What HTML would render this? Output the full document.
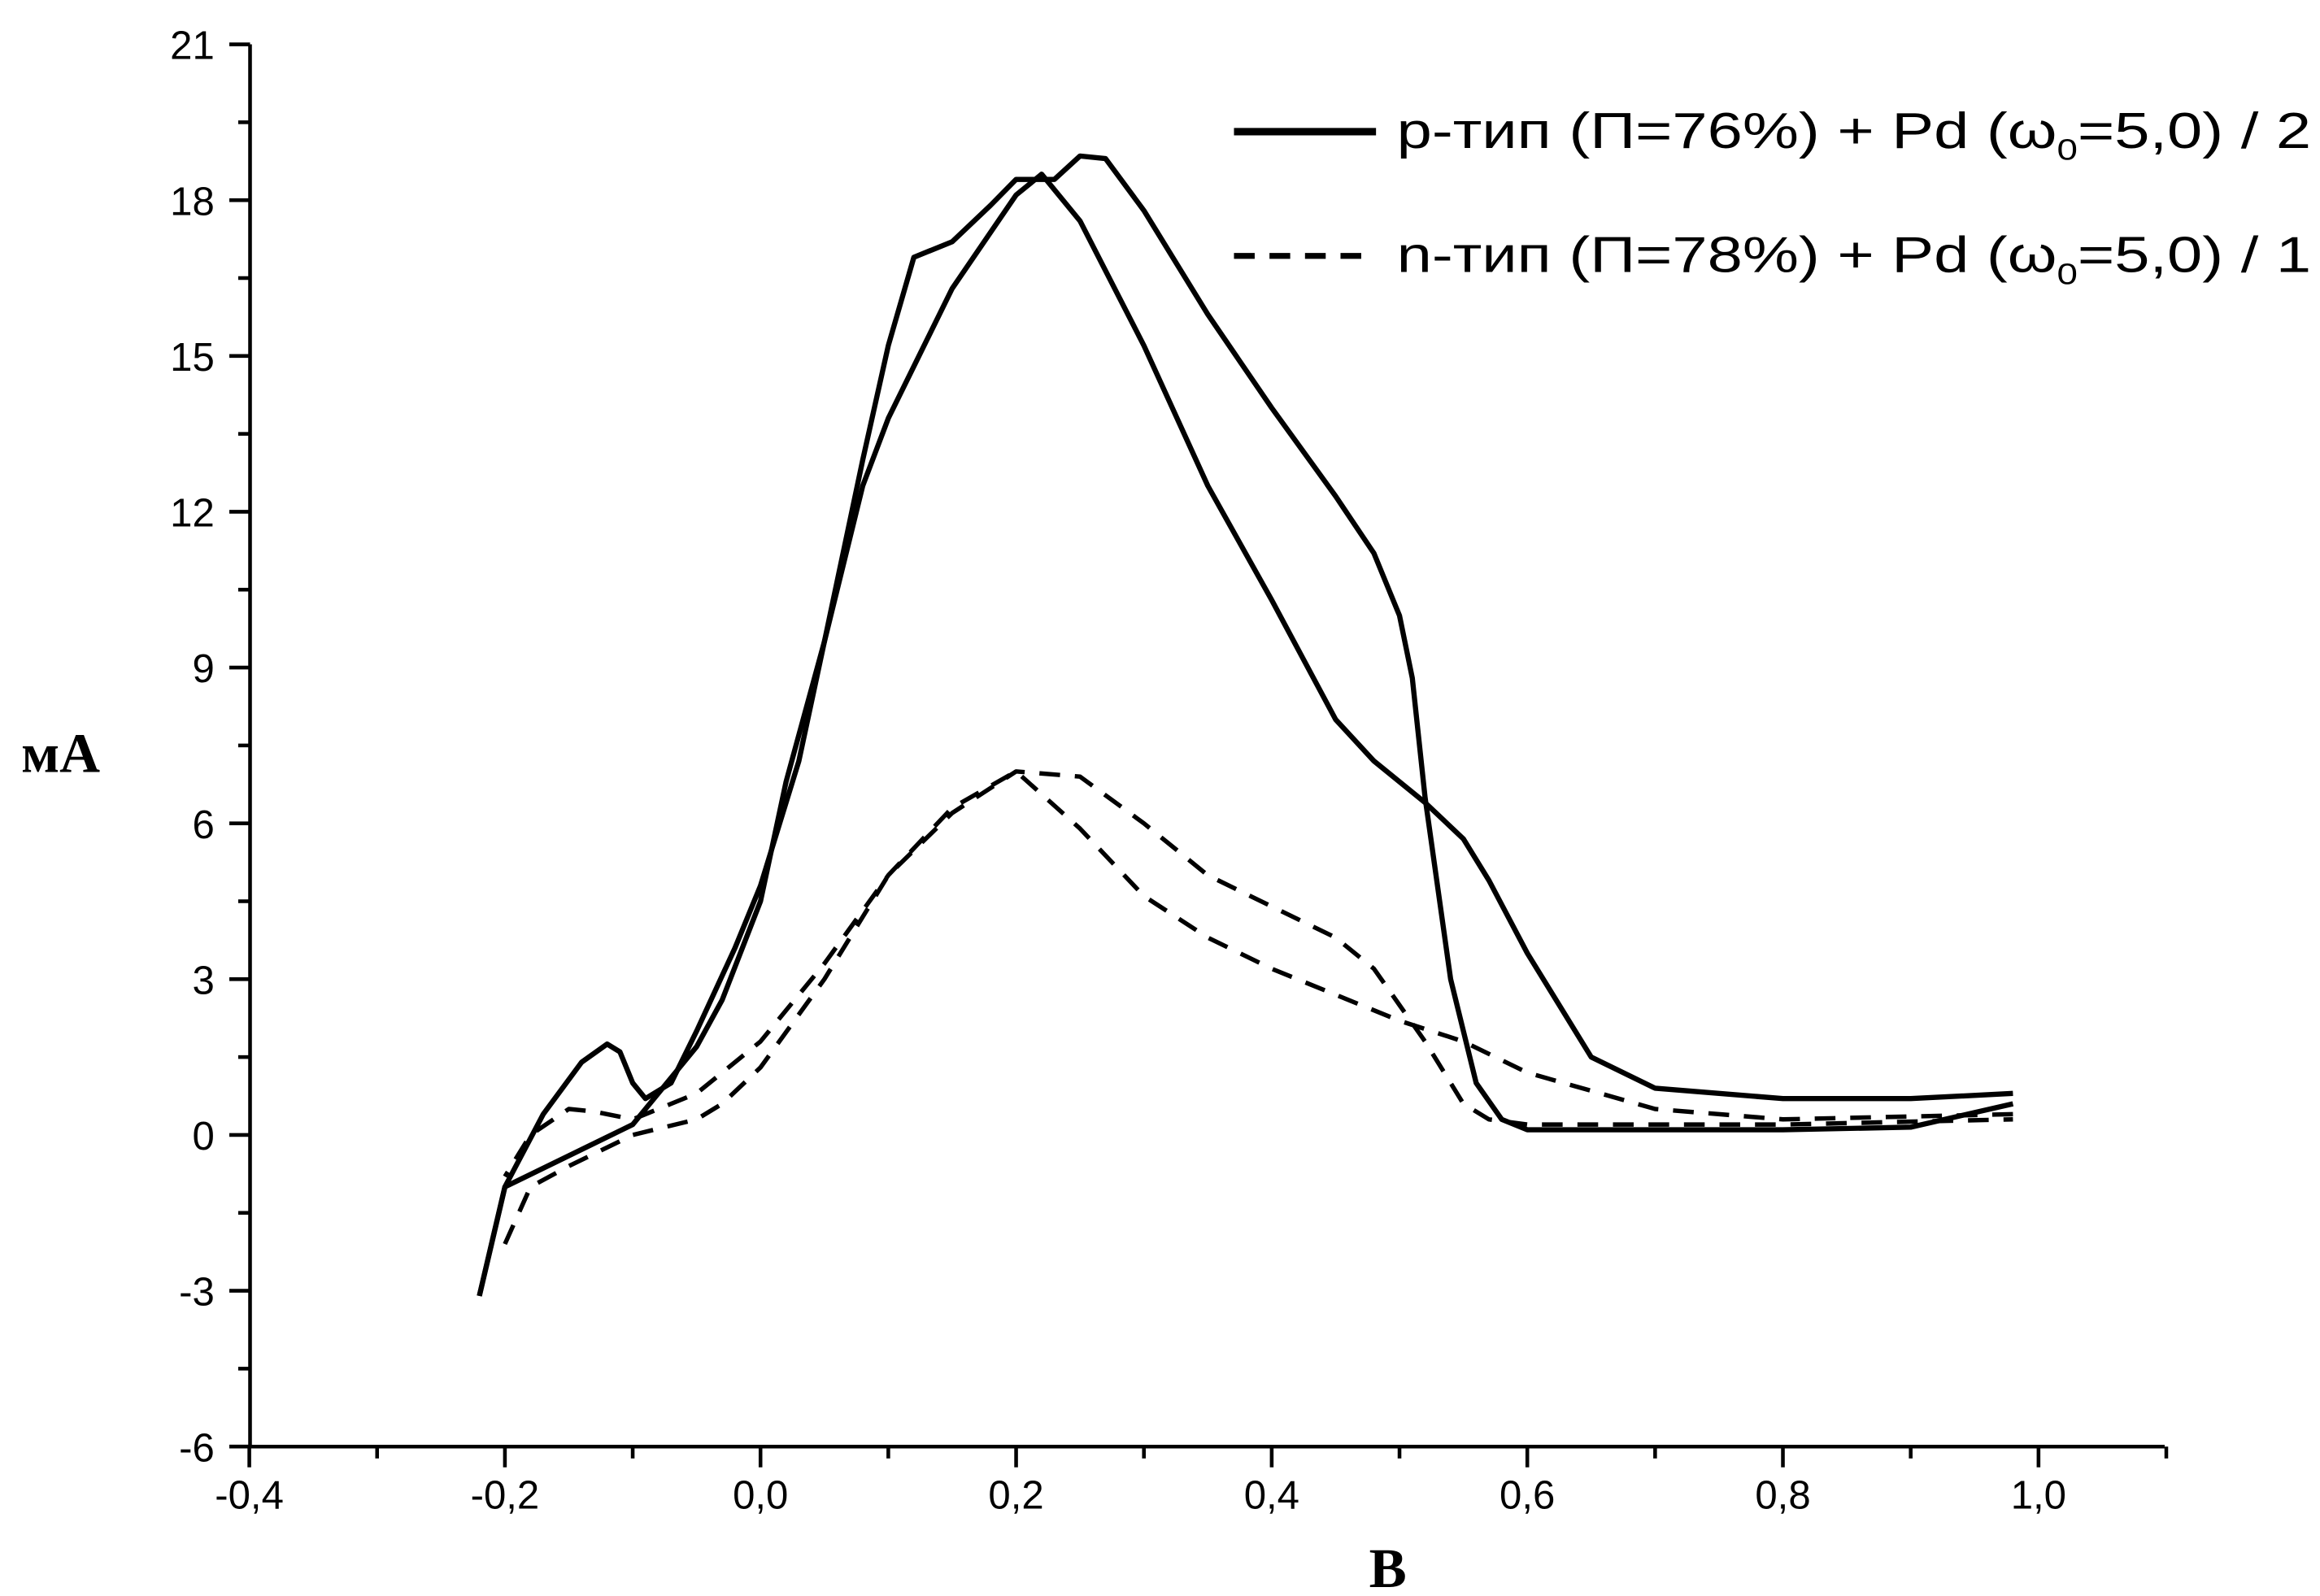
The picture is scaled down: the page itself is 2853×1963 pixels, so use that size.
<!DOCTYPE html>
<html><head><meta charset="utf-8"><style>html,body{margin:0;padding:0;background:#fff}svg{display:block}</style></head>
<body>
<svg id="chart" width="2853" height="1963" viewBox="0 0 1568 1079" preserveAspectRatio="none" xmlns="http://www.w3.org/2000/svg" font-family="'Liberation Sans', sans-serif">
<rect width="1568" height="1079" fill="#fff"/>
<g id="axes" stroke="#000" stroke-width="2.5" fill="none"></g>
<g id="labels" font-size="27" fill="#000"></g>
<g id="series" fill="none" stroke="#000" stroke-width="3.5" stroke-linejoin="round"></g>
<text x="41" y="522" font-family="'Liberation Serif', serif" font-weight="bold" font-size="38" text-anchor="middle">мА</text>
<text x="938" y="1073" font-family="'Liberation Serif', serif" font-weight="bold" font-size="38" text-anchor="middle">В</text>
<g>
 <line x1="834" y1="89" x2="930" y2="89" stroke="#000" stroke-width="5"/>
 <text x="944" y="100" font-size="34" textLength="618" lengthAdjust="spacingAndGlyphs">p-тип (П=76%) + Pd (ω<tspan font-size="20" dy="8">0</tspan><tspan dy="-8">=5,0) / 2</tspan></text>
 <line x1="834" y1="173" x2="930" y2="173" stroke="#000" stroke-width="4" stroke-dasharray="14,10"/>
 <text x="944" y="184" font-size="34" textLength="618" lengthAdjust="spacingAndGlyphs">n-тип (П=78%) + Pd (ω<tspan font-size="20" dy="8">0</tspan><tspan dy="-8">=5,0) / 1</tspan></text>
</g>
</svg>
<script>
const xTicks=[-0.4,-0.2,0.0,0.2,0.4,0.6,0.8,1.0];
const xTickLabels=["-0,4","-0,2","0,0","0,2","0,4","0,6","0,8","1,0"];
const yTicks=[-6,-3,0,3,6,9,12,15,18,21];
const yTickLabels=["-6","-3","0","3","6","9","12","15","18","21"];
const pX1=[-0.22,-0.2,-0.17,-0.14,-0.12,-0.11,-0.1,-0.09,-0.07,-0.05,-0.02,0.0,0.03,0.05,0.08,0.1,0.12,0.15,0.18,0.2,0.23,0.25,0.27,0.3,0.35,0.4,0.45,0.48,0.5,0.51,0.52,0.54,0.56,0.58,0.6,0.7,0.8,0.9,0.98];
const pY1=[-3.1,-1.0,0.4,1.4,1.75,1.6,1.0,0.7,1.0,2.0,3.6,4.8,7.2,9.5,13.0,15.2,16.9,17.2,17.9,18.4,18.4,18.85,18.8,17.8,15.8,14.0,12.3,11.2,10.0,8.8,6.5,3.0,1.0,0.3,0.1,0.1,0.1,0.15,0.6];
const pX2=[0.98,0.9,0.8,0.7,0.65,0.6,0.57,0.55,0.52,0.48,0.45,0.4,0.35,0.3,0.25,0.22,0.2,0.15,0.12,0.1,0.08,0.05,0.02,0.0,-0.03,-0.05,-0.1,-0.15,-0.2,-0.22];
const pY2=[0.8,0.7,0.7,0.9,1.5,3.5,4.9,5.7,6.4,7.2,8.0,10.3,12.5,15.2,17.6,18.5,18.1,16.3,14.8,13.8,12.5,9.5,6.8,4.5,2.6,1.7,0.2,-0.4,-1.0,-3.1];
const nX1=[-0.2,-0.18,-0.15,-0.1,-0.05,-0.03,0.0,0.05,0.1,0.15,0.2,0.25,0.3,0.35,0.4,0.45,0.48,0.5,0.52,0.55,0.57,0.6,0.8,0.98];
const nY1=[-2.1,-1.0,-0.6,0.0,0.3,0.6,1.3,3.0,5.0,6.2,7.0,6.9,6.0,5.0,4.4,3.8,3.2,2.5,1.8,0.6,0.3,0.2,0.2,0.3];
const nX2=[0.98,0.8,0.7,0.6,0.55,0.5,0.45,0.4,0.35,0.3,0.25,0.2,0.15,0.1,0.05,0.0,-0.05,-0.1,-0.13,-0.15,-0.18,-0.2];
const nY2=[0.4,0.3,0.5,1.2,1.8,2.2,2.7,3.2,3.8,4.6,5.9,7.0,6.3,5.0,3.3,1.8,0.8,0.3,0.45,0.5,0.0,-0.8];
const NS="http://www.w3.org/2000/svg";
const X=v=>514+(v)*863.75, Y=v=>767.3-v*35.11;
const axes=document.getElementById('axes'),labels=document.getElementById('labels'),series=document.getElementById('series');
function mk(tag,attrs,parent){const e=document.createElementNS(NS,tag);for(const k in attrs)e.setAttribute(k,attrs[k]);parent.appendChild(e);return e;}
let e=mk('line',{x1:169,y1:Y(21),x2:169,y2:978},axes);


e=mk('line',{x1:169,y1:978,x2:1463,y2:978},axes);


yTicks.forEach((v,i)=>{
 const t=mk('line',{x1:155,y1:Y(v),x2:169,y2:Y(v)},axes);
 
 
 if(i<yTicks.length-1){const m=mk('line',{x1:161,y1:Y(v+1.5),x2:169,y2:Y(v+1.5)},axes);
 
 }
 const l=mk('text',{x:145,y:Y(v)+10,'text-anchor':'end'},labels);l.textContent=yTickLabels[i];
 
 
});
xTicks.forEach((v,i)=>{
 const t=mk('line',{x1:X(v),y1:978,x2:X(v),y2:992},axes);
 
 
 const m=mk('line',{x1:X(v+0.1),y1:978,x2:X(v+0.1),y2:986},axes);
 
 
 const l=mk('text',{x:X(v),y:1020,'text-anchor':'middle'},labels);l.textContent=xTickLabels[i];
 
 
});
function line(xs,ys,name,dash){
 const p=mk('polyline',{points:xs.map((x,i)=>X(x)+','+Y(ys[i])).join(' ')},series);
 if(dash){p.setAttribute('stroke-dasharray','14,10');p.setAttribute('stroke-width','3');}
 
 
}
line(pX1,pY1,'p-type-forward',false);
line(pX2,pY2,'p-type-reverse',false);
line(nX1,nY1,'n-type-forward',true);
line(nX2,nY2,'n-type-reverse',true);
</script>
</body></html>
